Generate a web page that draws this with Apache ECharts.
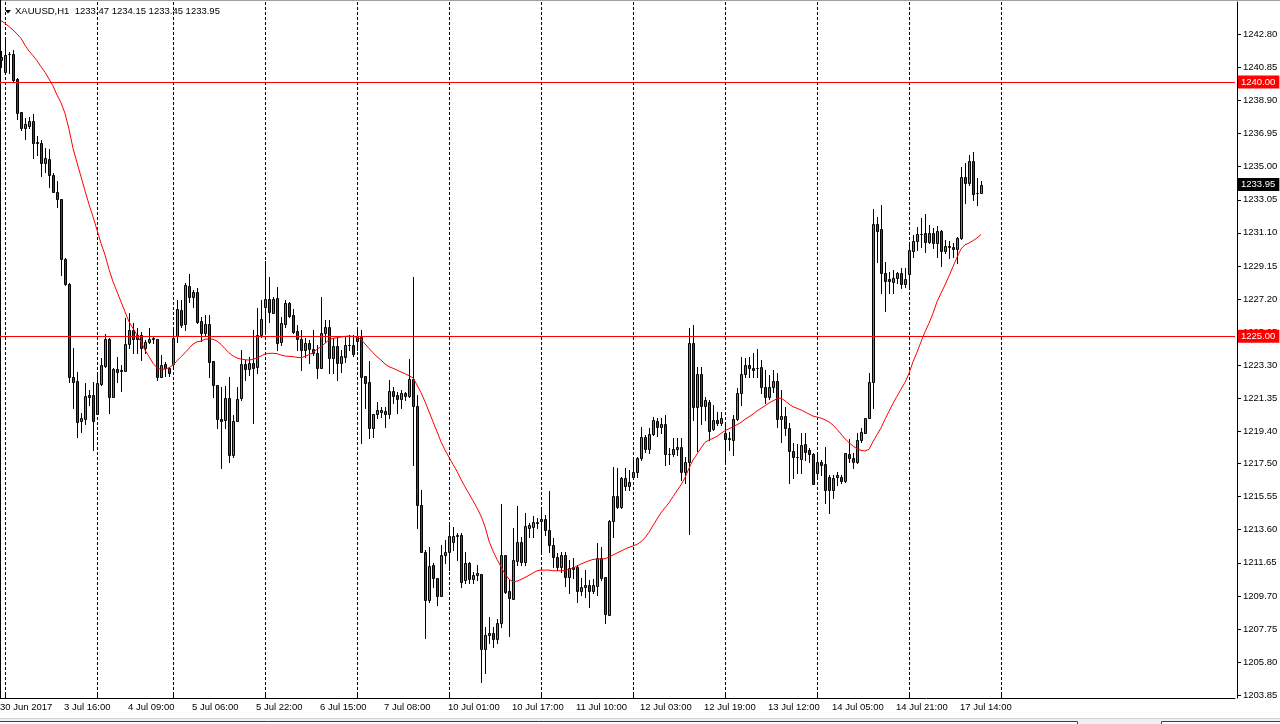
<!DOCTYPE html>
<html><head><meta charset="utf-8">
<script src="https://cdn.jsdelivr.net/npm/echarts@6/dist/echarts.min.js"></script>
<style>html,body{margin:0;padding:0;background:#fff;}#c{width:1280px;height:724px;}</style>
</head><body><div id="c"></div>
<script>
const symbol = 'XAUUSD,H1';
const year = '2017';
// trading sessions: [day, first hour, last hour]
const sessions = [['30 Jun',23,23],['3 Jul',1,23],['4 Jul',1,19],['5 Jul',1,23],['6 Jul',1,23],['7 Jul',1,23],
  ['10 Jul',1,23],['11 Jul',1,23],['12 Jul',1,23],['13 Jul',1,23],['14 Jul',1,23],['17 Jul',1,23],['18 Jul',1,23],['19 Jul',1,23],['20 Jul',1,23]];

const open = [
1241.47,1240.60,1241.62,1241.65,1240.15,1238.21,1237.27,1237.40,1237.70,1236.48,
1236.40,1235.24,1235.44,1234.51,1233.51,1233.10,1229.58,1228.07,1222.58,1222.37,
1220.01,1220.14,1221.54,1221.54,1220.42,1222.19,1223.25,1224.84,1221.44,1223.09,
1223.01,1222.97,1224.53,1225.37,1225.08,1225.08,1224.29,1224.68,1224.86,1224.83,
1222.58,1223.35,1223.15,1223.37,1225.02,1226.55,1225.71,1227.97,1227.30,1227.60,
1225.90,1225.18,1225.73,1223.55,1222.13,1220.11,1220.07,1221.35,1218.00,1220.03,
1221.35,1223.35,1223.06,1223.41,1223.17,1225.08,1226.71,1227.18,1226.39,1227.24,
1224.68,1225.73,1226.95,1226.24,1225.31,1224.83,1224.19,1224.59,1224.24,1224.03,
1223.15,1225.21,1225.53,1223.74,1224.43,1223.45,1223.80,1224.47,1224.49,1224.94,
1224.94,1222.66,1222.29,1219.61,1220.42,1220.54,1220.60,1220.40,1221.76,1221.54,
1221.30,1221.68,1221.50,1222.47,1220.89,1215.06,1212.30,1209.45,1211.52,1210.73,
1209.69,1212.11,1212.30,1212.89,1213.29,1213.29,1210.63,1211.62,1210.67,1210.93,
1210.99,1206.55,1207.39,1207.53,1207.14,1208.12,1212.11,1210.00,1209.50,1211.77,
1212.86,1211.71,1213.72,1213.78,1214.00,1214.13,1214.21,1213.58,1212.68,1212.01,
1211.42,1212.11,1210.83,1211.38,1211.38,1210.00,1210.20,1210.34,1210.00,1210.30,
1211.91,1210.83,1208.57,1214.11,1215.59,1214.96,1216.17,1216.17,1216.69,1216.98,
1217.81,1219.08,1218.34,1219.22,1220.01,1219.64,1219.83,1218.06,1218.04,1218.34,
1218.49,1216.98,1217.57,1224.59,1220.85,1222.76,1220.89,1221.11,1219.55,1220.07,
1219.87,1219.28,1219.02,1218.89,1220.11,1221.64,1222.76,1223.31,1223.11,1223.11,
1223.17,1222.00,1221.41,1222.00,1222.37,1220.11,1220.30,1219.58,1218.24,1217.89,
1217.75,1218.65,1218.30,1218.06,1216.92,1217.59,1217.47,1216.72,1215.94,1216.69,
1216.69,1216.49,1218.06,1217.81,1217.61,1218.89,1219.32,1220.17,1222.29,1231.62,
1231.33,1228.72,1228.38,1228.22,1228.42,1228.72,1228.09,1228.66,1230.05,1230.60,
1231.02,1231.07,1230.54,1231.07,1230.48,1231.19,1230.05,1230.28,1230.28,1230.17,
1230.82,1234.38,1234.02,1235.36,1233.43,1233.47];

const high = [
1241.82,1242.57,1241.78,1241.88,1240.21,1238.23,1237.85,1237.95,1238.09,1236.81,
1236.58,1236.09,1236.03,1234.61,1234.14,1233.10,1229.62,1228.13,1224.29,1222.91,
1220.46,1222.27,1221.84,1222.32,1222.82,1223.70,1225.14,1224.88,1223.12,1223.80,
1223.31,1226.06,1226.36,1225.77,1225.47,1225.27,1224.78,1225.47,1225.02,1224.83,
1223.90,1223.50,1223.21,1225.47,1227.14,1227.14,1228.13,1228.68,1227.73,1227.83,
1226.16,1226.24,1226.24,1223.55,1222.13,1222.03,1222.07,1222.62,1220.36,1222.03,
1224.19,1223.60,1223.80,1225.37,1226.65,1227.14,1229.46,1228.52,1227.34,1227.89,
1226.16,1227.14,1227.04,1226.59,1225.67,1225.37,1224.88,1224.78,1225.37,1224.49,
1227.30,1225.96,1225.96,1224.88,1224.88,1224.19,1224.98,1225.08,1225.08,1225.57,
1225.37,1222.66,1223.55,1220.42,1221.15,1220.85,1220.85,1222.43,1222.03,1221.74,
1221.84,1221.74,1223.65,1228.52,1221.54,1215.94,1212.40,1212.60,1211.62,1210.73,
1212.70,1213.00,1213.88,1213.78,1213.39,1213.39,1212.30,1211.71,1211.12,1211.52,
1210.99,1207.88,1208.43,1207.88,1208.32,1215.11,1212.11,1210.63,1213.68,1215.00,
1213.19,1214.57,1213.98,1214.41,1214.27,1214.92,1214.47,1215.90,1213.09,1212.21,
1212.30,1212.30,1211.81,1211.91,1211.52,1210.73,1211.22,1210.63,1210.67,1212.80,
1212.56,1210.83,1214.17,1217.31,1217.22,1216.72,1217.22,1217.12,1217.75,1217.90,
1219.67,1219.18,1219.58,1220.23,1220.17,1220.17,1220.36,1218.40,1218.99,1218.99,
1218.99,1217.90,1225.47,1225.67,1223.17,1223.17,1221.44,1221.25,1220.95,1220.56,
1220.56,1219.87,1219.38,1220.36,1221.94,1223.80,1223.74,1223.80,1224.03,1224.24,
1223.60,1223.01,1222.72,1223.01,1222.82,1221.84,1220.85,1219.87,1218.69,1218.65,
1219.28,1219.28,1218.40,1218.10,1218.10,1217.71,1218.49,1216.82,1216.82,1217.02,
1216.82,1218.14,1218.93,1218.10,1219.28,1219.58,1220.17,1222.82,1232.49,1232.02,
1232.74,1229.40,1228.81,1228.91,1228.81,1229.01,1229.01,1230.49,1230.97,1231.43,
1231.96,1232.21,1231.56,1231.37,1231.50,1231.27,1230.68,1230.64,1230.48,1230.84,
1235.00,1235.20,1235.69,1235.89,1234.32,1234.15];

const low = [
1240.88,1240.58,1240.51,1240.01,1237.80,1237.16,1236.62,1237.27,1235.53,1235.69,
1234.47,1234.71,1233.82,1233.49,1232.64,1228.62,1228.03,1222.32,1220.76,1219.08,
1219.38,1219.83,1220.95,1218.30,1220.42,1222.13,1223.17,1220.50,1221.44,1222.32,
1221.79,1222.97,1224.29,1224.00,1224.03,1223.60,1224.00,1224.59,1224.62,1222.43,
1222.58,1222.66,1222.66,1223.21,1224.68,1225.55,1225.37,1227.04,1226.75,1225.77,
1224.72,1225.08,1222.62,1221.44,1219.58,1217.22,1219.58,1217.61,1217.90,1220.03,
1221.25,1222.43,1222.72,1219.87,1222.82,1224.94,1225.18,1225.86,1226.39,1224.19,
1224.49,1225.57,1226.16,1225.18,1224.19,1223.01,1223.76,1223.41,1223.90,1222.53,
1223.15,1224.68,1222.86,1222.82,1222.43,1222.91,1223.50,1224.19,1223.84,1224.19,
1218.73,1220.76,1218.99,1219.08,1220.17,1220.26,1219.67,1220.17,1221.05,1220.50,
1220.76,1221.25,1221.44,1217.41,1213.68,1212.30,1207.20,1209.35,1210.24,1209.16,
1209.69,1211.62,1211.22,1212.40,1211.81,1210.20,1210.44,1210.44,1210.44,1210.63,
1204.64,1205.17,1206.90,1206.67,1206.90,1207.88,1209.85,1207.33,1209.50,1211.52,
1211.52,1211.52,1213.15,1213.19,1213.68,1212.30,1213.29,1212.30,1211.42,1211.22,
1211.12,1210.28,1209.85,1210.73,1209.35,1209.75,1209.65,1209.02,1209.85,1209.75,
1210.63,1208.08,1208.57,1213.19,1214.86,1214.86,1215.94,1215.94,1216.57,1216.72,
1217.71,1218.20,1218.10,1219.18,1219.12,1219.28,1217.41,1217.47,1217.94,1218.00,
1216.53,1216.33,1213.34,1220.07,1218.26,1219.83,1220.07,1218.89,1219.48,1219.77,
1219.77,1217.61,1218.30,1218.00,1220.07,1220.95,1222.62,1222.62,1222.62,1222.62,
1221.64,1221.05,1221.29,1221.74,1219.67,1218.79,1219.18,1216.37,1216.63,1216.92,
1216.92,1217.71,1217.61,1216.29,1216.63,1216.82,1215.19,1214.60,1215.45,1216.23,
1216.33,1216.43,1217.61,1217.22,1217.51,1218.79,1219.28,1220.17,1220.76,1229.40,
1227.54,1226.51,1227.54,1227.54,1228.13,1227.83,1227.93,1227.87,1229.70,1230.09,
1230.28,1229.95,1230.48,1230.19,1229.66,1229.15,1229.90,1229.60,1229.70,1229.34,
1230.72,1232.84,1233.92,1233.04,1232.74,1233.45];

const close = [
1241.29,1241.59,1241.66,1240.11,1238.15,1237.27,1237.52,1237.70,1236.42,1236.38,
1235.24,1235.51,1234.49,1233.53,1233.08,1229.54,1228.07,1222.58,1222.32,1219.97,
1220.20,1221.48,1221.44,1220.01,1222.27,1223.31,1224.83,1221.44,1223.06,1222.91,
1222.96,1224.55,1225.37,1224.83,1224.83,1224.29,1224.68,1224.84,1224.90,1222.58,
1223.31,1223.11,1222.82,1224.92,1226.59,1225.67,1228.03,1227.30,1227.60,1225.86,
1225.18,1225.73,1223.50,1222.13,1220.11,1220.03,1221.35,1218.00,1220.03,1221.29,
1223.35,1223.06,1223.41,1223.15,1225.08,1226.00,1227.18,1226.45,1227.18,1224.62,
1225.77,1226.95,1226.22,1225.27,1224.83,1224.19,1224.59,1224.24,1224.03,1223.15,
1225.21,1225.53,1223.74,1224.43,1223.45,1223.84,1224.49,1224.51,1223.94,1224.74,
1222.62,1222.27,1219.58,1220.42,1220.66,1220.66,1220.40,1221.76,1221.50,1221.30,
1221.64,1221.50,1222.47,1220.89,1215.06,1212.30,1209.45,1211.46,1210.73,1209.69,
1212.11,1212.30,1213.23,1213.23,1213.23,1210.53,1211.62,1210.67,1210.93,1211.03,
1206.55,1207.39,1207.53,1207.14,1208.12,1212.11,1209.94,1209.55,1211.81,1212.86,
1211.71,1213.82,1213.88,1214.04,1214.04,1214.21,1213.58,1212.68,1211.97,1211.42,
1212.11,1210.83,1211.32,1211.26,1210.00,1210.20,1210.34,1210.00,1210.34,1211.91,
1210.77,1208.61,1214.11,1215.59,1214.96,1216.63,1216.63,1216.43,1216.98,1217.81,
1219.08,1218.34,1219.22,1220.07,1219.64,1219.83,1218.04,1218.08,1218.34,1218.49,
1216.98,1217.57,1224.59,1220.85,1222.76,1220.89,1221.25,1219.44,1220.07,1219.87,
1220.17,1218.95,1218.93,1220.11,1221.64,1222.76,1223.31,1223.11,1223.01,1223.13,
1222.00,1221.41,1222.00,1222.37,1220.11,1220.30,1219.58,1218.22,1217.90,1217.87,
1218.59,1218.20,1218.06,1216.29,1217.59,1217.41,1215.94,1215.94,1216.63,1216.82,
1216.49,1218.10,1217.81,1217.61,1218.89,1219.36,1220.17,1222.29,1231.62,1231.23,
1228.72,1228.28,1228.28,1228.42,1228.72,1228.07,1228.36,1230.09,1230.60,1231.02,
1231.03,1230.54,1231.07,1230.48,1231.19,1230.05,1230.33,1230.31,1230.17,1230.82,
1234.38,1234.02,1235.36,1233.39,1233.45,1233.95];

// moving average (red line)
const ma = [
1243.61,1243.46,1243.26,1243.06,1242.83,1242.57,1242.16,1241.82,1241.55,1241.25,
1240.90,1240.57,1240.17,1239.76,1239.23,1238.77,1238.15,1237.21,1236.09,1235.24,
1234.41,1233.59,1232.78,1232.05,1231.27,1230.48,1229.80,1228.95,1228.22,1227.63,
1227.04,1226.45,1225.86,1225.47,1225.08,1224.68,1224.19,1223.80,1223.41,1223.15,
1223.06,1223.06,1223.15,1223.31,1223.56,1223.80,1224.03,1224.29,1224.55,1224.68,
1224.72,1224.83,1224.84,1224.83,1224.72,1224.53,1224.27,1224.03,1223.84,1223.72,
1223.66,1223.62,1223.60,1223.65,1223.72,1223.84,1223.96,1224.00,1224.00,1223.98,
1223.90,1223.84,1223.82,1223.80,1223.76,1223.74,1223.82,1223.92,1224.03,1224.24,
1224.39,1224.59,1224.80,1224.88,1224.92,1224.96,1225.00,1225.02,1225.00,1224.94,
1224.83,1224.55,1224.29,1224.03,1223.80,1223.60,1223.37,1223.21,1223.12,1223.01,
1222.90,1222.80,1222.68,1222.56,1222.13,1221.68,1221.15,1220.56,1219.97,1219.38,
1218.79,1218.30,1217.87,1217.45,1217.04,1216.57,1216.13,1215.72,1215.31,1214.88,
1214.41,1213.78,1212.93,1212.34,1211.85,1211.42,1210.99,1210.69,1210.53,1210.57,
1210.67,1210.79,1210.91,1211.05,1211.18,1211.22,1211.22,1211.22,1211.18,1211.18,
1211.18,1211.20,1211.26,1211.34,1211.46,1211.58,1211.68,1211.77,1211.85,1211.87,
1211.87,1211.89,1211.99,1212.11,1212.23,1212.34,1212.46,1212.56,1212.64,1212.74,
1212.89,1213.13,1213.45,1213.84,1214.23,1214.60,1214.90,1215.19,1215.55,1215.90,
1216.25,1216.67,1217.22,1217.71,1218.06,1218.42,1218.75,1218.89,1218.99,1219.11,
1219.28,1219.44,1219.55,1219.67,1219.79,1219.93,1220.11,1220.26,1220.42,1220.60,
1220.76,1220.91,1221.07,1221.20,1221.32,1221.36,1221.20,1221.01,1220.85,1220.76,
1220.66,1220.54,1220.42,1220.30,1220.24,1220.18,1220.08,1219.95,1219.77,1219.52,
1219.24,1218.96,1218.73,1218.53,1218.38,1218.28,1218.24,1218.34,1218.79,1219.20,
1219.60,1220.11,1220.58,1221.05,1221.47,1221.88,1222.29,1222.82,1223.50,1224.06,
1224.68,1225.27,1225.77,1226.36,1227.04,1227.54,1228.03,1228.56,1229.11,1229.66,
1230.15,1230.40,1230.50,1230.64,1230.80,1231.00];

const priceTicks = [1242.80,1240.85,1238.90,1236.95,1235.00,1233.05,1231.10,1229.15,1227.20,1225.25,
  1223.30,1221.35,1219.40,1217.50,1215.55,1213.60,1211.65,1209.70,1207.75,1205.80,1203.85];
const levelLines = [1240.00, 1225.00];
const lastPrice = 1233.95;
const priceMin = 1203.68, priceMax = 1244.71;

const SLOTS = 309;           // bars that fit the visible window (incl. chart shift)
const LABEL_EVERY = 16;
const categories = [];
const dayStarts = [];
for (const [day, first, last] of sessions) {
  for (let h = first; h <= last && categories.length < SLOTS; h++) {
    if (h === first && categories.length > 0) dayStarts.push(categories.length);
    categories.push(day + ' ' + String(h).padStart(2, '0') + ':00');
  }
}
const nBars = close.length;
const firstFuture = dayStarts.find(d => d >= nBars);
const separators = dayStarts.filter(d => d <= firstFuture);

const BULL = '#00c800', BEAR = '#e80000';
const FONT = '"Liberation Sans", Arial, sans-serif';
const FS = 9.5;
const titleText = symbol + '  ' + [open[nBars-1], high[nBars-1], low[nBars-1], close[nBars-1]].map(v => v.toFixed(2)).join(' ');

const boxLabel = (bg) => ({
  show: true, position: 'end', distance: 3, formatter: p => p.value.toFixed(2),
  color: '#fff', backgroundColor: bg, padding: [2, 4, 1, 3], fontSize: FS, fontFamily: FONT
});

function renderCandle(params, api) {
  const i = api.value(0);
  const o = api.value(1), c = api.value(2), l = api.value(3), h = api.value(4);
  const pO = api.coord([i, o]), pC = api.coord([i, c]);
  const p = Math.round(pO[0]);
  const yT = Math.round(Math.min(pO[1], pC[1])), yB = Math.round(Math.max(pO[1], pC[1]));
  const yH = Math.round(api.coord([i, h])[1]), yL = Math.round(api.coord([i, l])[1]);
  return { type: 'group', children: [
    { type: 'line', shape: { x1: p + 0.5, y1: yH, x2: p + 0.5, y2: yL + 1 }, style: { stroke: '#000', lineWidth: 1 } },
    { type: 'rect', shape: { x: p - 0.5, y: yT + 0.5, width: 2, height: yB - yT },
      style: { fill: c >= o ? BULL : BEAR, stroke: '#000', lineWidth: 1 } }
  ] };
}
function renderSeparator(params, api) {
  const i = api.value(0);
  const top = api.coord([i, priceMax]), bot = api.coord([i, priceMin]);
  const p = Math.round(top[0]);
  return { type: 'line', shape: { x1: p + 0.5, y1: Math.round(top[1]), x2: p + 0.5, y2: Math.round(bot[1]) },
    style: { stroke: '#000', lineWidth: 1, lineDash: [3, 2] } };
}

const chart = echarts.init(document.getElementById('c'), null, { renderer: 'canvas' });
chart.setOption({
  animation: false,
  backgroundColor: '#ffffff',
  textStyle: { fontFamily: FONT },
  title: { text: titleText, left: 15, top: 6, padding: 0,
    textStyle: { fontSize: FS, fontWeight: 'normal', color: '#000', fontFamily: FONT } },
  grid: { left: -1, right: 45, top: 2, bottom: 26, containLabel: false, outerBoundsMode: 'none' },
  xAxis: {
    type: 'category', data: categories, boundaryGap: true,
    axisLine: { lineStyle: { color: '#000', width: 1 } },
    axisTick: { show: true, inside: true, length: 4, alignWithLabel: true,
      interval: (i) => separators.includes(i), lineStyle: { color: '#000' } },
    axisLabel: { interval: (i) => i % LABEL_EVERY === 0 && i < nBars,
      formatter: (v, i) => i === 0 ? v.split(' ').slice(0, 2).join(' ') + ' ' + year : v,
      align: 'left', margin: 4, padding: [0, 0, 0, -1], fontSize: FS, color: '#000', fontFamily: FONT },
    splitLine: { show: false }
  },
  yAxis: {
    type: 'value', position: 'right', offset: 2, min: priceMin, max: priceMax,
    axisLine: { show: true, lineStyle: { color: '#000' } },
    axisTick: { show: true, length: 4, customValues: priceTicks, lineStyle: { color: '#000' } },
    axisLabel: { customValues: priceTicks, formatter: v => v.toFixed(2), margin: 6,
      fontSize: FS, color: '#000', fontFamily: FONT },
    splitLine: { show: false }
  },
  graphic: [
    { type: 'rect', silent: true, shape: { x: 0, y: 0, width: 1280, height: 1 }, style: { fill: '#a0a0a0' } },
    { type: 'rect', silent: true, shape: { x: 0, y: 0, width: 1, height: 698 }, style: { fill: '#000' } },
    { type: 'rect', silent: true, shape: { x: 0, y: 718, width: 1280, height: 6 }, style: { fill: '#f0f0f0' } },
    { type: 'rect', silent: true, shape: { x: 0, y: 718, width: 1280, height: 1 }, style: { fill: '#d0d0d0' } },
    { type: 'rect', silent: true, shape: { x: -2.5, y: 721.5, width: 1080, height: 6 }, style: { fill: '#ffffff', stroke: '#404040', lineWidth: 1 } },
    { type: 'rect', silent: true, shape: { x: 1161.5, y: 721.5, width: 125, height: 6 }, style: { fill: '#ffffff', stroke: '#404040', lineWidth: 1 } },
    { type: 'polygon', silent: true, shape: { points: [[5, 10], [11, 10], [8, 13.5]] }, style: { fill: '#000' } }
  ],
  series: [
    { type: 'custom', name: 'separators', silent: true, z: 1, renderItem: renderSeparator,
      data: separators.map(i => [i]), encode: { x: 0 } },
    { type: 'custom', name: 'XAUUSD', silent: true, z: 2, renderItem: renderCandle,
      data: open.map((o, i) => [i, o, close[i], low[i], high[i]]), encode: { x: 0, y: [1, 2, 3, 4] } },
    {
      type: 'line', data: ma, showSymbol: false, symbol: 'none', z: 5, silent: true,
      lineStyle: { color: '#ff0000', width: 1 },
      markLine: {
        silent: true, symbol: ['none', 'none'],
        data: [
          ...levelLines.map(v => ({ yAxis: v, lineStyle: { color: '#ff0000', width: 1, type: 'solid' }, label: boxLabel('#ff0000') })),
          { yAxis: lastPrice, lineStyle: { color: 'rgba(0,0,0,0)', width: 0 }, label: boxLabel('#000000') }
        ]
      }
    }
  ]
});
</script>
</body></html>
